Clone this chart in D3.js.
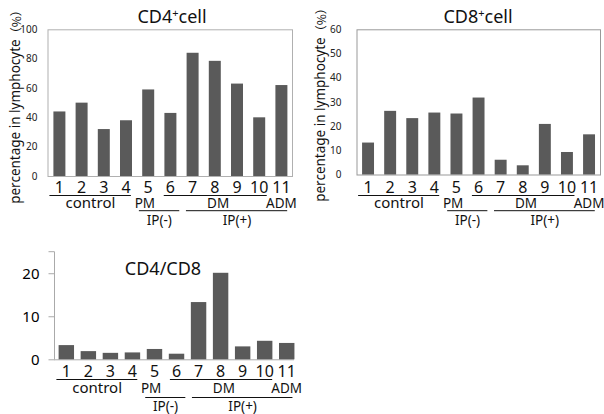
<!DOCTYPE html>
<html><head><meta charset="utf-8">
<script src="https://cdn.jsdelivr.net/npm/d3@7"></script>
<style>
html,body{margin:0;padding:0;background:#fff;}
svg{display:block;}
text{font-family:"Noto Sans","Open Sans",sans-serif;}
</style></head>
<body>
<svg id="chart" width="604" height="414"></svg>
<script>
// ---- data ----
const categories = ["1","2","3","4","5","6","7","8","9","10","11"];
const cd4Values  = [44, 50, 32, 38, 59, 43, 84, 78.5, 63, 40, 62];
const cd8Values  = [13.2, 26.3, 23.3, 25.6, 25.2, 31.8, 6.1, 3.8, 20.9, 9.3, 16.6];
const ratioValues = [3.3, 1.9, 1.5, 1.6, 2.4, 1.3, 13.3, 20.1, 3.0, 4.3, 3.8];
const cd4Ticks = [0, 20, 40, 60, 80, 100];
const cd8Ticks = [0, 10, 20, 30, 40, 50, 60];
const ratioTicks = [0, 10, 20];
const groupLabels = ["control", "PM", "DM", "ADM"];
const ipLabels = ["IP(-)", "IP(+)"];
const yLabel = "percentage in lymphocyte";
const yUnit = "（%）";

const svg = d3.select("#chart");
const barColor = "#5a5a5a";

function panel(o) {
  const g = svg.append("g");
  const x = d3.scaleBand().domain(categories).range([o.x0, o.x0 + o.step * categories.length])
    .paddingInner(o.pad).paddingOuter(o.pad / 2);
  const y = d3.scaleLinear().domain(o.domain).range([o.yBottom, o.yTop]);
  const step = x.step();
  const u = v => o.x0 + v * step; // band-unit position

  if (o.box) {
    g.append("rect").attr("x", o.boxLeft + 0.5).attr("y", y(o.domain[1]) + 0.5)
      .attr("width", o.boxRight - o.boxLeft).attr("height", y(0) - y(o.domain[1]))
      .attr("fill", "none").attr("stroke", o.boxColor).attr("stroke-width", 1);
    const ax = d3.axisLeft(y).tickValues(o.ticks).tickSize(0).tickPadding(o.tickPad);
    const a = g.append("g").attr("transform", `translate(${o.boxLeft},0)`).call(ax);
    a.select(".domain").remove();
    a.selectAll("text").attr("font-size", o.tickFont).attr("fill", "#222")
      .style("font-family", "'Noto Sans',sans-serif");
  } else {
    const ax = d3.axisLeft(y).tickValues(o.ticks).tickSize(6).tickPadding(o.tickPad);
    const a = g.append("g").attr("transform", `translate(${o.boxLeft + 0.5},0)`).call(ax);
    a.select(".domain").attr("stroke", "#aaa").attr("d", `M-6,${y(o.domain[1])}H0V${y(0)}`);
    a.selectAll(".tick line").attr("stroke", "#aaa");
    a.selectAll("text").attr("font-size", o.tickFont).attr("fill", "#000")
      .style("font-family", "'Noto Sans',sans-serif");
    g.append("line").attr("x1", o.boxLeft).attr("x2", o.boxRight)
      .attr("y1", y(0) + 0.5).attr("y2", y(0) + 0.5).attr("stroke", "#aaa");
  }

  g.selectAll("rect.bar").data(o.values).join("rect").attr("class", "bar")
    .attr("x", (d, i) => x(categories[i])).attr("width", x.bandwidth())
    .attr("y", d => y(d)).attr("height", d => y(0) - y(d)).attr("fill", barColor);

  // title
  const t = g.append("text").attr("x", o.titleX).attr("y", o.titleY)
    .attr("text-anchor", "middle").attr("font-size", 18).attr("fill", "#111");
  if (o.sup) {
    t.append("tspan").text(o.title[0]);
    t.append("tspan").text("+").attr("font-size", 11).attr("dy", -6);
    t.append("tspan").text(o.title[1]).attr("dy", 6);
  } else {
    t.text(o.title);
  }

  // y label
  if (o.yLabelX != null) {
    const yl = g.append("text").attr("transform", `translate(${o.yLabelX},${o.yLabelY}) rotate(-90)`)
      .attr("text-anchor", "middle").attr("dominant-baseline", "central")
      .attr("font-size", 13.5).attr("fill", "#111");
    yl.append("tspan").text(yLabel);
    yl.append("tspan").text(yUnit).style("font-family", "'Noto Sans CJK JP'").attr("font-size", 12);
  }

  // category numbers
  g.selectAll("text.cat").data(categories).join("text").attr("class", "cat")
    .attr("x", d => x(d) + x.bandwidth() / 2).attr("y", o.numY)
    .attr("text-anchor", "middle").attr("font-size", 16).attr("fill", "#111").text(d => d);

  const line = (a, b, yy) => g.append("line").attr("x1", u(a)).attr("x2", u(b))
    .attr("y1", yy).attr("y2", yy).attr("stroke", "#111").attr("stroke-width", 1);
  line(0.05, 3.72, o.lineY);
  line(5.2, 9.84, o.lineY);
  line(4.08, 5.9, o.ipLineY);
  line(6.2, 10.76, o.ipLineY);

  const gpos = [1.9, 4.35, 7.65, 10.5];
  groupLabels.forEach((lab, i) => {
    g.append("text").attr("x", u(gpos[i])).attr("y", o.groupY).attr("text-anchor", "middle")
      .attr("font-size", i === 0 ? 15 : 13.5).attr("fill", "#111").text(lab);
  });
  const ipos = [5.0, 8.5];
  ipLabels.forEach((lab, i) => {
    g.append("text").attr("x", u(ipos[i])).attr("y", o.ipY).attr("text-anchor", "middle")
      .attr("font-size", 13.5).attr("fill", "#111").text(lab);
  });
}

panel({
  values: cd4Values, ticks: cd4Ticks, domain: [0, 100],
  x0: 48.3, step: 22.2, pad: 0.46, yBottom: 176, yTop: 29.3,
  box: true, boxLeft: 47.5, boxRight: 292, boxColor: "#b0b0b0", tickFont: 10, tickPad: 10,
  title: ["CD4", "cell"], sup: true, titleX: 172, titleY: 23,
  yLabelX: 15, yLabelY: 104,
  numY: 193, lineY: 195.5, groupY: 207.5, ipLineY: 210.7, ipY: 224.5
});
panel({
  values: cd8Values, ticks: cd8Ticks, domain: [0, 60],
  x0: 357, step: 22.1, pad: 0.46, yBottom: 174.5, yTop: 29.3,
  box: true, boxLeft: 356.5, boxRight: 600, boxColor: "#999", tickFont: 10, tickPad: 15,
  title: ["CD8", "cell"], sup: true, titleX: 478, titleY: 23,
  yLabelX: 320, yLabelY: 102,
  numY: 193, lineY: 195.5, groupY: 207.5, ipLineY: 210.7, ipY: 224.5
});
panel({
  values: ratioValues, ticks: ratioTicks, domain: [0, 25],
  x0: 55.3, step: 22.04, pad: 0.3, yBottom: 359.3, yTop: 251.7,
  box: false, boxLeft: 54, boxRight: 294, tickFont: 15, tickPad: 9,
  title: "CD4/CD8", sup: false, titleX: 163, titleY: 275,
  yLabelX: null,
  numY: 377, lineY: 379.5, groupY: 392.5, ipLineY: 397.5, ipY: 411
});
</script>
</body></html>
